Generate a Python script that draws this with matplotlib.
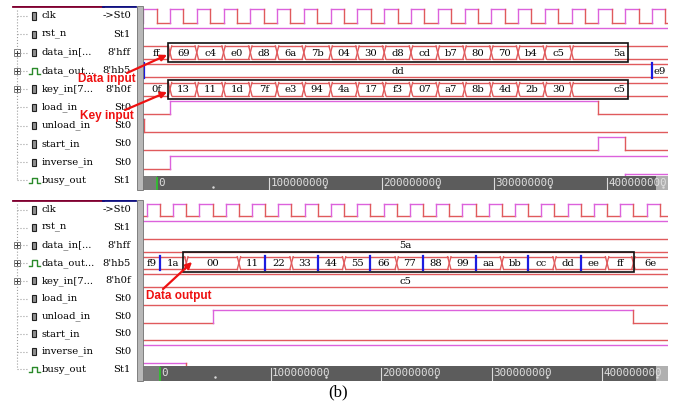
import matplotlib.pyplot as plt
from matplotlib.patches import Rectangle

W, H = 676, 404
CLK = 23.8          # clock period (x 1e6 time units)

RED = "#e05a5c"
MAG = "#dc62dc"
BLUE = "#1c1ce0"
ARROW = "#ee1111"

names = ["clk", "rst_n", "data_in[...", "data_out...", "key_in[7...",
         "load_in", "unload_in", "start_in", "inverse_in", "busy_out"]
values = ["->St0", "St1", "8'hff", "8'hb5", "8'h0f", "St0", "St0", "St0", "St0", "St1"]
bus_rows = [2, 3, 4]
out_rows = [3, 9]

# encryption run (upper window), bus edges given in clock periods
data_in_top = ["ff", "69", "c4", "e0", "d8", "6a", "7b", "04", "30", "d8",
               "cd", "b7", "80", "70", "b4", "c5", "5a"]
key_in_top = ["0f", "13", "11", "1d", "7f", "e3", "94", "4a", "17", "f3",
              "07", "a7", "8b", "4d", "2b", "30", "c5"]
in_edges_top = [0.5, 1.5, 2.5, 3.5, 4.5, 5.5, 6.5, 7.5, 8.5, 9.5,
                10.5, 11.5, 12.5, 13.5, 14.5, 15.5]
data_out_top = ["", "dd", "e9"]
data_out_edges_top = [-0.47, 18.5]

# output run (lower window)
data_in_bot = ["5a"]
key_in_bot = ["c5"]
data_out_bot = ["f9", "1a", "00", "11", "22", "33", "44", "55", "66", "77",
                "88", "99", "aa", "bb", "cc", "dd", "ee", "ff", "6e"]
data_out_edges_bot = [0, 1, 3, 4, 5, 6, 7, 8, 9, 10, 11, 12, 13, 14, 15, 16, 17, 18]
blue_edges_bot = [0, 4, 6, 8, 10, 12, 14, 16]

# single-bit signals: (row, initial level, edges in clock periods)
bits_top = [(1, 1, []), (5, 0, [0.5, 16.5]), (6, 1, [-0.47]),
            (7, 0, [16.5, 17.5]), (8, 0, [0.5]), (9, 0, [17.5])]
bits_bot = [(1, 1, []), (5, 0, []), (6, 0, [2, 18]),
            (7, 0, []), (8, 1, []), (9, 1, [1])]

tick_vals = [0, 100, 200, 300, 400]
tick_labels = ["0", "100000000", "200000000", "300000000", "400000000"]

HALF = 0.36


def box(x0, y0, x1, y1):
    return [x0 / W, 1 - y1 / H, (x1 - x0) / W, (y1 - y0) / H]


def draw_bit(ax, row, level, edges, lo, hi):
    t0 = lo
    for t in list(edges) + [hi]:
        y = row - HALF if level else row + HALF
        ax.plot([t0, t], [y, y], color=MAG if level else RED, lw=1)
        if t != hi:
            level = 1 - level
            ax.plot([t, t], [row - HALF, row + HALF], color=MAG if level else RED, lw=1)
        t0 = t


def draw_bus(ax, row, edges, labels, lo, hi, blue=()):
    d = 1.5
    bounds = [lo] + list(edges) + [hi]
    for j, t in enumerate(edges):
        if j in blue:
            ax.plot([t, t], [row - HALF - 0.05, row + HALF + 0.05], color=BLUE, lw=1.6, zorder=3)
        else:
            ax.plot([t - d, t + d], [row - HALF, row + HALF], color=RED, lw=1)
            ax.plot([t - d, t + d], [row + HALF, row - HALF], color=RED, lw=1)
    for k, lab in enumerate(labels):
        a, b = bounds[k], bounds[k + 1]
        a2 = a if (k == 0 or (k - 1) in blue) else a + d
        b2 = b if (k == len(labels) - 1 or k in blue) else b - d
        for y in (row - HALF, row + HALF):
            ax.plot([a2, b2], [y, y], color=RED, lw=1)
        if lab:
            ax.text((max(a, lo) + min(b, hi)) / 2, row + 0.03, lab, ha="center", va="center",
                    fontsize=7.2, family="DejaVu Serif", clip_on=True)


def panel(y_top, y_bot, row0, pitch, ruler_top, x_zero, scale):
    ylim = ((y_bot - row0) / pitch, (y_top - row0) / pitch)
    lo = (143 - x_zero) / scale
    hi = (668 - x_zero) / scale

    # signal names
    axn = fig.add_axes(box(0, y_top, 137, y_bot))
    axn.set_xlim(0, 137)
    axn.set_ylim(*ylim)
    axn.axis("off")
    axn.plot([13, 103], [ylim[1], ylim[1]], color="#800030", lw=2)
    axn.plot([103, 135], [ylim[1], ylim[1]], color="#101080", lw=2)
    axn.plot([17, 17], [ylim[1] + 0.2, 9], color="#a0a0a0", lw=0.8, ls=":")
    for i, (nm, val) in enumerate(zip(names, values)):
        axn.plot([17, 28], [i, i], color="#a0a0a0", lw=0.8, ls=":")
        if i in bus_rows:
            axn.add_patch(Rectangle((14, i - 0.17), 6, 0.34, fill=False, ec="#808080", lw=0.7))
            axn.plot([15, 19], [i, i], color="#404040", lw=0.7)
            axn.plot([17, 17], [i - 0.11, i + 0.11], color="#404040", lw=0.7)
        if i in out_rows:
            axn.plot([29, 32, 32, 37, 37, 40], [i + 0.15, i + 0.15, i - 0.15, i - 0.15, i + 0.15, i + 0.15],
                     color="#2a8a2a", lw=1)
        else:
            axn.add_patch(Rectangle((32, i - 0.2), 3.5, 0.4, fc="#909090", ec="#202020", lw=0.8))
        axn.text(42, i, nm, va="center", ha="left", fontsize=7.2, family="DejaVu Serif")
        axn.text(131, i, val, va="center", ha="right", fontsize=7.2, family="DejaVu Serif")

    # pane splitter
    fig.patches.append(Rectangle((137 / W, 1 - y_bot / H), 6 / W, (y_bot - y_top) / H,
                                 transform=fig.transFigure, fc="#b8b8b8", ec="#707070", lw=0.6))

    # waveforms
    axw = fig.add_axes(box(143, y_top, 668, y_bot))
    axw.set_xlim(lo, hi)
    axw.set_ylim(*ylim)
    axw.axis("off")
    axw.set_facecolor("white")

    clk_edges = [CLK * (j / 2 - 0.5) for j in range(0, 44)]
    draw_bit(axw, 0, 0, [t for t in clk_edges if lo < t < hi], lo, hi)

    # time ruler
    r0 = (ruler_top - row0) / pitch
    axw.add_patch(Rectangle((lo, r0), hi - lo, ylim[0] - r0, fc="#5c5c5c", ec="none", zorder=5))
    axw.add_patch(Rectangle((lo, r0), -lo, ylim[0] - r0, fc="#7a7a7a", ec="none", zorder=5))
    axw.add_patch(Rectangle((hi - 12 / scale, r0), 12 / scale, ylim[0] - r0, fc="#b0b0b0",
                            ec="none", zorder=5))
    ymid = (r0 + ylim[0]) / 2
    for tv, tl in zip(tick_vals, tick_labels):
        axw.plot([tv, tv], [r0 + 0.12, ylim[0] - 0.08], color="#30c030" if tv == 0 else "#dcdcdc",
                 lw=1.3 if tv == 0 else 0.8, zorder=6)
        axw.text(tv + 1.5 / scale, ymid, tl, ha="left", va="center", fontsize=7.8,
                 family="DejaVu Sans Mono", color="#e0e0e0", zorder=6, clip_on=True)
    for tv in tick_vals:
        axw.plot([tv + 50], [ymid + 0.2], marker=".", ms=1.5, color="#dcdcdc", zorder=6)
    return axw, lo, hi


fig = plt.figure(figsize=(W / 100, H / 100), dpi=100)
fig.patch.set_facecolor("white")

# upper window: encryption run
axt, lo, hi = panel(6, 190, 16, 18.27, 176, 156.6, 1.125)
draw_bus(axt, 2, [e * CLK for e in in_edges_top], data_in_top, lo, hi)
draw_bus(axt, 4, [e * CLK for e in in_edges_top], key_in_top, lo, hi)
draw_bus(axt, 3, [e * CLK for e in data_out_edges_top], data_out_top, lo, hi, blue=(0, 1))
for row, lvl, edges in bits_top:
    draw_bit(axt, row, lvl, [e * CLK for e in edges], lo, hi)
for row in (2, 4):
    axt.add_patch(Rectangle((0.42 * CLK, row - 0.52), 17.2 * CLK, 1.04, fill=False,
                            ec="#101010", lw=1.2, zorder=4))

# lower window: output run
axb, lo2, hi2 = panel(200, 381, 210, 17.7, 366, 160, 1.105)
draw_bus(axb, 2, [], data_in_bot, lo2, hi2)
draw_bus(axb, 4, [], key_in_bot, lo2, hi2)
draw_bus(axb, 3, [e * CLK for e in data_out_edges_bot], data_out_bot, lo2, hi2,
         blue=[data_out_edges_bot.index(b) for b in blue_edges_bot])
for row, lvl, edges in bits_bot:
    draw_bit(axb, row, lvl, [e * CLK for e in edges], lo2, hi2)
axb.add_patch(Rectangle((0.88 * CLK, 3 - 0.62), 17.14 * CLK, 1.12, fill=False,
                        ec="#101010", lw=1.2, zorder=4))

# callouts
ov = fig.add_axes([0, 0, 1, 1], zorder=10)
ov.set_xlim(0, W)
ov.set_ylim(H, 0)
ov.axis("off")
arrow = dict(arrowstyle="-|>", color=ARROW, lw=1.6, mutation_scale=9, shrinkA=0, shrinkB=0)
ov.annotate("", xy=(0.39 * CLK, 2.13), xycoords=axt.transData, xytext=(127, 73),
            textcoords=ov.transData, arrowprops=arrow)
ov.annotate("", xy=(0.39 * CLK, 4.16), xycoords=axt.transData, xytext=(125, 110),
            textcoords=ov.transData, arrowprops=arrow)
ov.annotate("", xy=(1.22 * CLK, 2.94), xycoords=axb.transData, xytext=(163, 289),
            textcoords=ov.transData, arrowprops=arrow)
lab = dict(color=ARROW, fontsize=8.5, fontweight="bold", family="Liberation Sans",
           ha="center", va="center")
ov.text(107, 79, "Data input", **lab)
ov.text(107, 116, "Key input", **lab)
ov.text(179, 296, "Data output", **lab)

ov.text(338, 392, "(b)", ha="center", va="center", fontsize=12, family="Liberation Serif")

fig.savefig("out.png", dpi=100)
